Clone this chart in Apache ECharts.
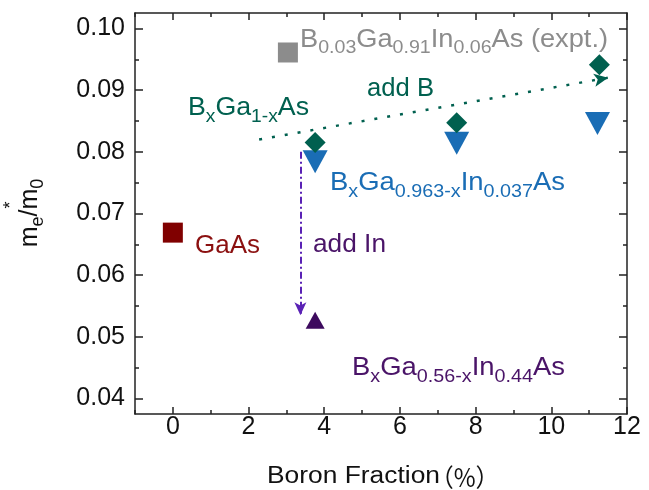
<!DOCTYPE html>
<html>
<head>
<meta charset="utf-8">
<script src="https://cdn.jsdelivr.net/npm/echarts@6/dist/echarts.min.js"></script>
<style>html,body{margin:0;padding:0;background:#fff;}#c{width:649px;height:490px;}</style>
</head>
<body>
<div id="c"></div>
<script>
// ---- data ----
const xMajorTicks = [0, 2, 4, 6, 8, 10, 12];
const xMinorTicks = [-1, 1, 3, 5, 7, 9, 11];
const yMajorTicks = [0.04, 0.05, 0.06, 0.07, 0.08, 0.09, 0.10];
const yMinorTicks = [0.045, 0.055, 0.065, 0.075, 0.085, 0.095];

const gaasX = [0];
const gaasY = [0.0669];
const exptX = [3.04];
const exptY = [0.0961];
const bgaasX = [3.76, 7.5, 11.27];
const bgaasY = [0.0815, 0.0847, 0.0941];
const bgainas037X = [3.76, 7.5, 11.22];
const bgainas037Y = [0.0784, 0.0814, 0.0846];
const bgainas44X = [3.76];
const bgainas44Y = [0.0527];
const addBArrow = [[2.28, 0.0820], [11.5, 0.0920]];
const addInArrow = [[3.37, 0.0800], [3.37, 0.0535]];

const FONT = "'Liberation Sans', Arial, sans-serif";
const CJK = "'Noto Sans CJK SC', 'Liberation Sans', sans-serif";
const AXC = '#222';

function zip(xs, ys) { return xs.map((x, i) => [x, ys[i]]); }

const mctx = document.createElement('canvas').getContext('2d');
function measure(t, size) { mctx.font = size + 'px ' + FONT; return mctx.measureText(t).width; }

function xAx(pos, vals, len, line, labels) {
  return {
    type: 'value', position: pos, min: -1, max: 12,
    axisLine: { show: line, onZero: false, lineStyle: { color: AXC, width: 1.5 } },
    axisTick: { show: true, inside: true, length: len, customValues: vals, lineStyle: { color: AXC, width: 1.5 } },
    axisLabel: { show: labels, customValues: vals, fontSize: 25, color: '#111', fontFamily: FONT, margin: 1,
      formatter: v => String(Math.round(v)) },
    splitLine: { show: false }
  };
}
function yAx(pos, vals, len, line, labels) {
  return {
    type: 'value', position: pos, min: 0.0375, max: 0.1025,
    axisLine: { show: line, onZero: false, lineStyle: { color: AXC, width: 1.5 } },
    axisTick: { show: true, inside: true, length: len, customValues: vals, lineStyle: { color: AXC, width: 1.5 } },
    axisLabel: { show: labels, customValues: vals, fontSize: 25, color: '#111', fontFamily: FONT, margin: 10,
      formatter: v => v.toFixed(2) },
    splitLine: { show: false }
  };
}

function richLabel(x, baseline, parts, color, targetW) {
  const main = 25, sub = 18;
  const text = parts.map(p => (p[1] ? '{s|' : '{m|') + p[0] + '}').join('');
  let w = 0;
  parts.forEach(p => { w += measure(p[0], p[1] ? sub : main); });
  const top = baseline - (main / 2 + 0.3465 * main);
  const pad = Math.round(main / 2 + 0.3465 * main + 6.5 - (sub / 2 + 0.3465 * sub));
  return {
    type: 'text', x: x, y: top, scaleX: targetW / w, silent: true, z: 100,
    style: {
      text: text, align: 'left', verticalAlign: 'top', fill: color,
      rich: {
        m: { fontSize: main, lineHeight: main, verticalAlign: 'top', fill: color, fontFamily: FONT },
        s: { fontSize: sub, lineHeight: sub, verticalAlign: 'top', padding: [pad, 0, 0, 0], fill: color, fontFamily: FONT }
      }
    }
  };
}

const TEAL = '#00604f', BLUE = '#1a6db5', GRAY = '#8c8c8c', RED = '#800000', PURP = '#3d0a5e', PURPT = '#4a1468', ARROWP = '#5a22b5';
const xTitleMain = 'Boron Fraction';
const xTitleUnit = '（%）';

const chart = echarts.init(document.getElementById('c'), null, { renderer: 'canvas' });
chart.setOption({
  animation: false,
  backgroundColor: '#fff',
  grid: { left: 135, right: 22, top: 13, bottom: 76, containLabel: false },
  xAxis: [
    xAx('bottom', xMajorTicks, 7, true, true),
    xAx('bottom', xMinorTicks, 4, false, false),
    xAx('top', xMajorTicks, 7, true, false),
    xAx('top', xMinorTicks, 4, false, false)
  ],
  yAxis: [
    yAx('left', yMajorTicks, 8, true, true),
    yAx('left', yMinorTicks, 4, false, false),
    yAx('right', yMajorTicks, 8, true, false),
    yAx('right', yMinorTicks, 4, false, false)
  ],
  series: [
    { type: 'scatter', name: 'GaAs', data: zip(gaasX, gaasY), symbol: 'rect', symbolSize: 20,
      itemStyle: { color: RED, opacity: 1 } },
    { type: 'scatter', name: 'expt', data: zip(exptX, exptY), symbol: 'rect', symbolSize: 20,
      itemStyle: { color: GRAY, opacity: 1 } },
    { type: 'scatter', name: 'BGaAs', data: zip(bgaasX, bgaasY), symbol: 'diamond', symbolSize: 21, z: 3,
      itemStyle: { color: TEAL, opacity: 1 },
      markLine: { silent: true, symbol: ['none', 'arrow'], symbolSize: [10, 14], label: { show: false },
        lineStyle: { color: TEAL, type: [3, 10], width: 2.5 },
        data: [[{ coord: addBArrow[0] }, { coord: addBArrow[1] }]] } },
    { type: 'scatter', name: 'BGaInAs037', data: zip(bgainas037X, bgainas037Y), symbol: 'triangle', symbolRotate: 180,
      symbolSize: [25, 23], z: 2, itemStyle: { color: BLUE, opacity: 1 } },
    { type: 'scatter', name: 'BGaInAs44', data: zip(bgainas44X, bgainas44Y), symbol: 'triangle', symbolSize: [19, 17],
      itemStyle: { color: PURP, opacity: 1 },
      markLine: { silent: true, symbol: ['none', 'arrow'], symbolSize: [9, 13], label: { show: false },
        lineStyle: { color: ARROWP, type: [7, 3, 2, 3], width: 2 },
        data: [[{ coord: addInArrow[0] }, { coord: addInArrow[1] }]] } }
  ],
  graphic: [
    richLabel(300, 48.3, [['B', 0], ['0.03', 1], ['Ga', 0], ['0.91', 1], ['In', 0], ['0.06', 1], ['As (expt.)', 0]], GRAY, 308),
    richLabel(367, 97.3, [['add B', 0]], TEAL, 67),
    richLabel(188, 116.7, [['B', 0], ['x', 1], ['Ga', 0], ['1-x', 1], ['As', 0]], TEAL, 121),
    richLabel(330, 191.7, [['B', 0], ['x', 1], ['Ga', 0], ['0.963-x', 1], ['In', 0], ['0.037', 1], ['As', 0]], BLUE, 235),
    richLabel(195, 254.3, [['GaAs', 0]], '#8b1010', 65),
    richLabel(313, 254, [['add In', 0]], PURPT, 73),
    richLabel(352, 376.7, [['B', 0], ['x', 1], ['Ga', 0], ['0.56-x', 1], ['In', 0], ['0.44', 1], ['As', 0]], PURPT, 213),
    {
      type: 'text', x: 267, y: 477, silent: true,
      scaleX: 173 / measure(xTitleMain, 23),
      style: { text: xTitleMain, align: 'left', verticalAlign: 'middle', fill: '#111',
        fontSize: 23, fontFamily: FONT }
    },
    {
      type: 'text', x: 430, y: 477, silent: true, scaleX: 0.95,
      style: { text: xTitleUnit, align: 'left', verticalAlign: 'middle', fill: '#111',
        fontSize: 25, fontFamily: CJK }
    },
    {
      type: 'text', x: 30, y: 213, rotation: Math.PI / 2, silent: true,
      style: {
        text: '{m|m}{s|e}{m|/m}{s|0}', align: 'center', verticalAlign: 'middle', fill: '#111',
        rich: {
          m: { fontSize: 25, lineHeight: 25, verticalAlign: 'top', fill: '#111', fontFamily: FONT },
          s: { fontSize: 18, lineHeight: 18, verticalAlign: 'top', padding: [12, 0, 0, 0], fill: '#111', fontFamily: FONT }
        }
      }
    },
    {
      type: 'text', x: 11, y: 205, rotation: Math.PI / 2, silent: true,
      style: { text: '*', align: 'center', verticalAlign: 'middle', fill: '#111', fontSize: 18, fontFamily: FONT }
    }
  ]
});
</script>
</body>
</html>
